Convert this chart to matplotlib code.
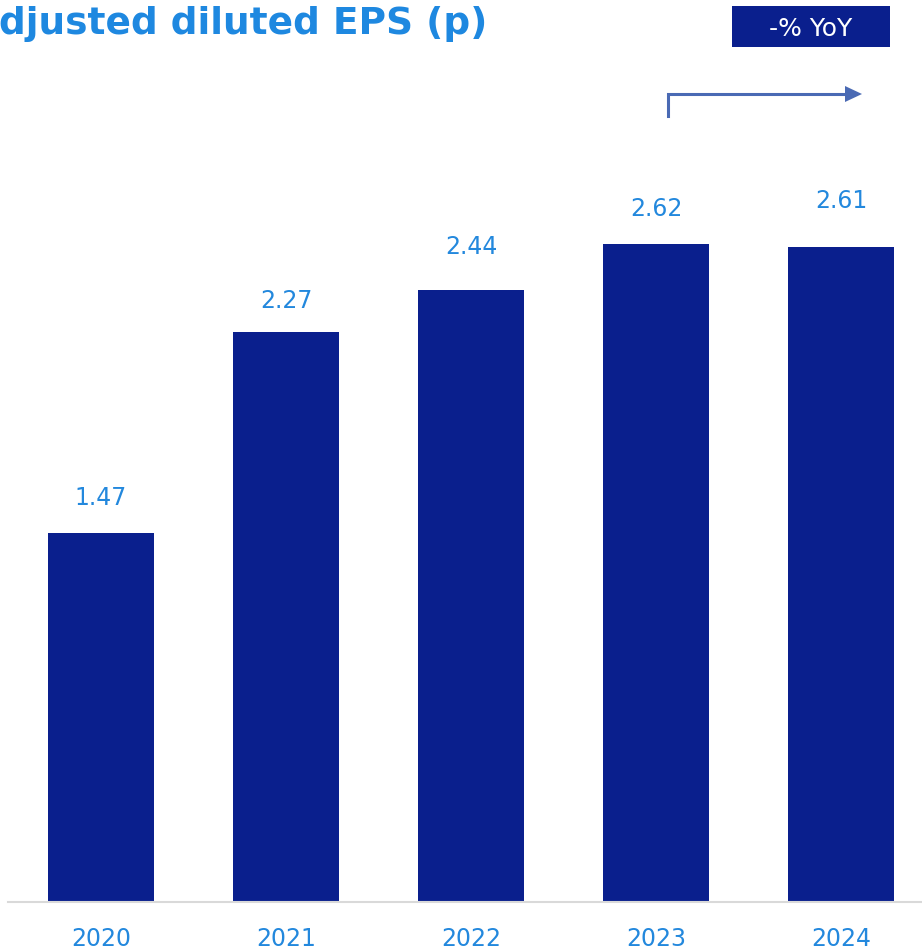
import matplotlib.pyplot as plt
from matplotlib.lines import Line2D
from matplotlib.patches import Polygon, Rectangle

years = ['2020', '2021', '2022', '2023', '2024']
eps = [1.47, 2.27, 2.44, 2.62, 2.61]
label_gap = [17.5, 14.5, 22.5, 17.5, 25]  # points above each bar

W, H = 922, 953
bar_color = '#0A1F8D'
text_blue = '#2388DD'
arrow_color = '#4A6AB4'

plt.rcParams['font.family'] = ['DejaVu Sans']

fig = plt.figure(figsize=(W / 100, H / 100), dpi=100)


def px(x, y):
    # pixel position (from top-left) -> figure fraction
    return x / W, 1 - y / H


ax = fig.add_axes([8 / W, (H - 903) / H, 914 / W, 753 / H])
xs = range(len(years))
ax.bar(xs, eps, width=0.573, color=bar_color)
ax.set_xlim(-0.503, 4.438)
ax.set_ylim(0, 3.0)

for x, v, g in zip(xs, eps, label_gap):
    ax.annotate(f'{v:.2f}', (x, v), xytext=(0, g), textcoords='offset points',
                ha='center', va='bottom', fontsize=17, color=text_blue)

ax.set_xticks(list(xs))
ax.set_xticklabels(years, fontsize=17, color=text_blue)
ax.tick_params(axis='x', length=0, pad=17)
ax.set_yticks([])
for s in ['top', 'right', 'left']:
    ax.spines[s].set_visible(False)
ax.spines['bottom'].set_color('#D9D9D9')
ax.spines['bottom'].set_linewidth(1.5)

# title, running off the left edge
fig.text(*px(487, 24), 'Adjusted diluted EPS (p)', ha='right', va='center',
         fontsize=27, fontweight='bold', color='#1E88E0')

# YoY box
bx, by = px(732, 48)
fig.add_artist(Rectangle((bx, by), 158 / W, 41 / H, transform=fig.transFigure,
                         facecolor=bar_color, edgecolor='none'))
fig.text(*px(811, 29), '-% YoY', ha='center', va='center', fontsize=18, color='white')

# bent arrow
x0, y0 = px(668, 117)
x1, y1 = px(668, 95)
x2, y2 = px(846, 95)
fig.add_artist(Line2D([x0, x1, x2], [y0, y1, y2], transform=fig.transFigure,
                      color=arrow_color, linewidth=2.2, solid_joinstyle='miter'))
fig.add_artist(Polygon([px(845, 87), px(862, 95), px(845, 103)], closed=True,
                       transform=fig.transFigure, facecolor=arrow_color, edgecolor='none'))

fig.savefig('out.png', dpi=100)
